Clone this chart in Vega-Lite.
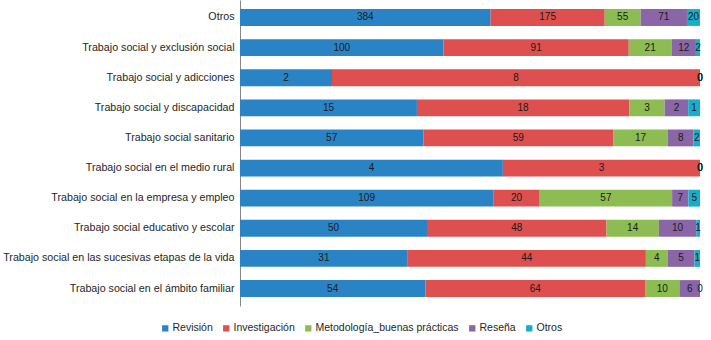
{
  "$schema": "https://vega.github.io/schema/vega-lite/v6.json",
  "autosize": "none",
  "width": 460,
  "height": 306,
  "padding": {"left": 240, "top": 0, "right": 11, "bottom": 34},
  "background": "white",
  "config": {"view": {"stroke": null}, "font": "Liberation Sans"},
  "data": {"values": [
    {"cat": "Otros", "tipo": "Revisión", "o": 1, "v": 384},
    {"cat": "Otros", "tipo": "Investigación", "o": 2, "v": 175},
    {"cat": "Otros", "tipo": "Metodología_buenas prácticas", "o": 3, "v": 55},
    {"cat": "Otros", "tipo": "Reseña", "o": 4, "v": 71},
    {"cat": "Otros", "tipo": "Otros", "o": 5, "v": 20},
    {"cat": "Trabajo social y exclusión social", "tipo": "Revisión", "o": 1, "v": 100},
    {"cat": "Trabajo social y exclusión social", "tipo": "Investigación", "o": 2, "v": 91},
    {"cat": "Trabajo social y exclusión social", "tipo": "Metodología_buenas prácticas", "o": 3, "v": 21},
    {"cat": "Trabajo social y exclusión social", "tipo": "Reseña", "o": 4, "v": 12},
    {"cat": "Trabajo social y exclusión social", "tipo": "Otros", "o": 5, "v": 2},
    {"cat": "Trabajo social y adicciones", "tipo": "Revisión", "o": 1, "v": 2},
    {"cat": "Trabajo social y adicciones", "tipo": "Investigación", "o": 2, "v": 8},
    {"cat": "Trabajo social y adicciones", "tipo": "Metodología_buenas prácticas", "o": 3, "v": 0},
    {"cat": "Trabajo social y adicciones", "tipo": "Reseña", "o": 4, "v": 0},
    {"cat": "Trabajo social y adicciones", "tipo": "Otros", "o": 5, "v": 0},
    {"cat": "Trabajo social y discapacidad", "tipo": "Revisión", "o": 1, "v": 15},
    {"cat": "Trabajo social y discapacidad", "tipo": "Investigación", "o": 2, "v": 18},
    {"cat": "Trabajo social y discapacidad", "tipo": "Metodología_buenas prácticas", "o": 3, "v": 3},
    {"cat": "Trabajo social y discapacidad", "tipo": "Reseña", "o": 4, "v": 2},
    {"cat": "Trabajo social y discapacidad", "tipo": "Otros", "o": 5, "v": 1},
    {"cat": "Trabajo social sanitario", "tipo": "Revisión", "o": 1, "v": 57},
    {"cat": "Trabajo social sanitario", "tipo": "Investigación", "o": 2, "v": 59},
    {"cat": "Trabajo social sanitario", "tipo": "Metodología_buenas prácticas", "o": 3, "v": 17},
    {"cat": "Trabajo social sanitario", "tipo": "Reseña", "o": 4, "v": 8},
    {"cat": "Trabajo social sanitario", "tipo": "Otros", "o": 5, "v": 2},
    {"cat": "Trabajo social en el medio rural", "tipo": "Revisión", "o": 1, "v": 4},
    {"cat": "Trabajo social en el medio rural", "tipo": "Investigación", "o": 2, "v": 3},
    {"cat": "Trabajo social en el medio rural", "tipo": "Metodología_buenas prácticas", "o": 3, "v": 0},
    {"cat": "Trabajo social en el medio rural", "tipo": "Reseña", "o": 4, "v": 0},
    {"cat": "Trabajo social en el medio rural", "tipo": "Otros", "o": 5, "v": 0},
    {"cat": "Trabajo social en la empresa y empleo", "tipo": "Revisión", "o": 1, "v": 109},
    {"cat": "Trabajo social en la empresa y empleo", "tipo": "Investigación", "o": 2, "v": 20},
    {"cat": "Trabajo social en la empresa y empleo", "tipo": "Metodología_buenas prácticas", "o": 3, "v": 57},
    {"cat": "Trabajo social en la empresa y empleo", "tipo": "Reseña", "o": 4, "v": 7},
    {"cat": "Trabajo social en la empresa y empleo", "tipo": "Otros", "o": 5, "v": 5},
    {"cat": "Trabajo social educativo y escolar", "tipo": "Revisión", "o": 1, "v": 50},
    {"cat": "Trabajo social educativo y escolar", "tipo": "Investigación", "o": 2, "v": 48},
    {"cat": "Trabajo social educativo y escolar", "tipo": "Metodología_buenas prácticas", "o": 3, "v": 14},
    {"cat": "Trabajo social educativo y escolar", "tipo": "Reseña", "o": 4, "v": 10},
    {"cat": "Trabajo social educativo y escolar", "tipo": "Otros", "o": 5, "v": 1},
    {"cat": "Trabajo social en las sucesivas etapas de la vida", "tipo": "Revisión", "o": 1, "v": 31},
    {"cat": "Trabajo social en las sucesivas etapas de la vida", "tipo": "Investigación", "o": 2, "v": 44},
    {"cat": "Trabajo social en las sucesivas etapas de la vida", "tipo": "Metodología_buenas prácticas", "o": 3, "v": 4},
    {"cat": "Trabajo social en las sucesivas etapas de la vida", "tipo": "Reseña", "o": 4, "v": 5},
    {"cat": "Trabajo social en las sucesivas etapas de la vida", "tipo": "Otros", "o": 5, "v": 1},
    {"cat": "Trabajo social en el ámbito familiar", "tipo": "Revisión", "o": 1, "v": 54},
    {"cat": "Trabajo social en el ámbito familiar", "tipo": "Investigación", "o": 2, "v": 64},
    {"cat": "Trabajo social en el ámbito familiar", "tipo": "Metodología_buenas prácticas", "o": 3, "v": 10},
    {"cat": "Trabajo social en el ámbito familiar", "tipo": "Reseña", "o": 4, "v": 6},
    {"cat": "Trabajo social en el ámbito familiar", "tipo": "Otros", "o": 5, "v": 0}
  ]},
  "encoding": {
    "y": {
      "field": "cat", "type": "nominal", "sort": null, "title": null,
      "scale": {"paddingInner": 0.44, "paddingOuter": 0.3},
      "axis": {"ticks": false, "domainColor": "#868686", "labelColor": "#262626", "labelFontSize": 10.7, "labelPadding": 6, "labelLimit": 300}
    }
  },
  "layer": [
    {
      "mark": {"type": "bar"},
      "encoding": {
        "x": {"field": "v", "type": "quantitative", "stack": "normalize", "axis": null},
        "color": {
          "field": "tipo", "type": "nominal",
          "scale": {
            "domain": ["Revisión", "Investigación", "Metodología_buenas prácticas", "Reseña", "Otros"],
            "range": ["#2A83C5", "#DE4F4F", "#8DBC52", "#8B66A6", "#17AEC9"]
          },
          "legend": {
            "orient": "none", "legendX": -80, "legendY": 323, "direction": "horizontal",
            "title": null, "symbolType": "square", "symbolSize": 40, "symbolStrokeWidth": 0,
            "labelFontSize": 10.5, "labelColor": "#262626", "columnPadding": 8, "labelOffset": 2
          }
        },
        "order": {"field": "o", "type": "quantitative"}
      }
    },
    {
      "mark": {"type": "text", "fontSize": 10, "color": "#1a1a1a", "baseline": "middle"},
      "encoding": {
        "x": {"field": "v", "type": "quantitative", "stack": "normalize", "bandPosition": 0.5},
        "detail": {"field": "tipo"},
        "text": {"field": "v", "type": "quantitative"},
        "order": {"field": "o", "type": "quantitative"}
      }
    }
  ]
}
